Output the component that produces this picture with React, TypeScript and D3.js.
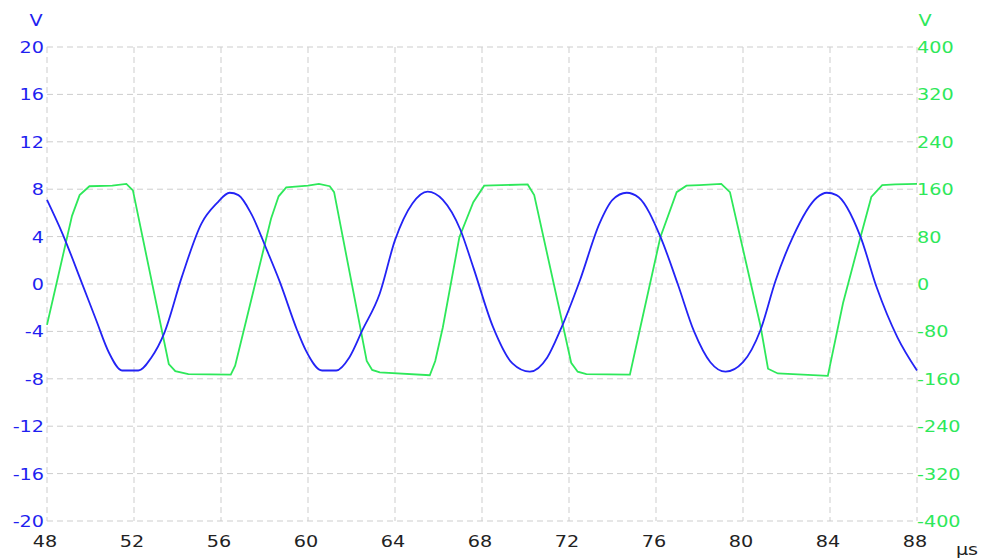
import React, { useEffect } from "react";
import * as d3 from "d3";

// time axis (µs)
const xTicks = [48, 52, 56, 60, 64, 68, 72, 76, 80, 84, 88];
// left axis (V), blue trace
const leftTicks = [20, 16, 12, 8, 4, 0, -4, -8, -12, -16, -20];
// right axis (V), green trace
const rightTicks = [400, 320, 240, 160, 80, 0, -80, -160, -240, -320, -400];

const blueT = [
  48.0, 48.7, 49.6, 50.25, 50.85, 51.45, 52.2, 52.8, 53.4, 54.2, 55.1, 55.8, 56.4, 56.8, 57.4, 58.1,
  58.7, 59.5, 59.9, 60.65, 61.3, 61.9, 62.5, 63.3, 64.0, 64.8, 65.5, 66.2, 67.0, 67.6, 68.5, 69.4,
  70.2, 71.0, 71.6, 72.5, 73.4, 74.0, 74.65, 75.2, 76.2, 77.0, 77.75, 78.5, 79.2, 80.0, 80.8, 81.5,
  82.3, 83.4, 83.85, 84.3, 85.4, 86.15, 87.1, 88.0,
];
const blueV = [
  7.1, 4.3, 0.1, -3.0, -5.8, -7.3, -7.3, -6.2, -4.1, 0.6, 5.1, 6.8, 7.7, 7.5, 5.9, 2.9,
  0.2, -3.9, -5.6, -7.3, -7.3, -6.2, -3.9, -0.8, 3.7, 6.8, 7.8, 7.1, 4.6, 1.4, -3.6, -6.7,
  -7.4, -6.2, -3.9, 0.3, 5.1, 7.1, 7.7, 7.3, 4.0, 0.0, -4.0, -6.6, -7.4, -6.6, -3.9, 0.3,
  4.0, 7.3, 7.7, 7.5, 4.0, -0.3, -4.5, -7.3,
];

const greenT = [
  48.0, 48.4, 49.15, 49.5, 49.95, 51.0, 51.65, 51.95, 53.6, 53.9, 54.5, 56.45, 56.65, 58.3, 58.65, 59.0,
  60.0, 60.5, 61.0, 61.2, 62.7, 62.95, 63.3, 65.6, 65.85, 66.2, 66.96, 67.6, 68.1, 70.1, 70.4, 72.1,
  72.4, 72.8, 74.8, 75.25, 76.2, 76.95, 77.4, 78.0, 79.0, 79.4, 80.8, 81.15, 81.6, 83.9, 84.6, 85.4,
  85.9, 86.4, 87.0, 88.0,
];
const greenV = [
  -69, -5, 115, 150, 165, 166, 169, 158, -135, -147, -152, -153, -138, 110, 148, 163,
  166, 169, 165, 155, -130, -145, -149, -154, -130, -73, 79, 138, 166, 168, 150, -133,
  -148, -152, -153, -78, 79, 155, 166, 167, 169, 155, -70, -143, -151, -155, -32, 79,
  147, 167, 168, 169,
];

const blueData = blueT.map((t, i) => [t, blueV[i]] as [number, number]);
const greenData = greenT.map((t, i) => [t, greenV[i]] as [number, number]);

const W = 984;
const H = 560;
const left = 47;
const right = 917;
const top = 47;
const bottom = 521;

const BLUE = "#2323f5";
const GREEN = "#2ee85a";
const FONT = "'DejaVu Sans', sans-serif";

export default function App() {
  useEffect(() => {
    document.body.style.margin = "0";
  }, []);

  const x = d3.scaleLinear().domain([48, 88]).range([left, right]);
  const yL = d3.scaleLinear().domain([-20, 20]).range([bottom, top]);
  const yR = d3.scaleLinear().domain([-400, 400]).range([bottom, top]);

  const blueLine = d3
    .line<[number, number]>()
    .x((d) => x(d[0]))
    .y((d) => yL(d[1]))
    .curve(d3.curveMonotoneX);
  const greenLine = d3
    .line<[number, number]>()
    .x((d) => x(d[0]))
    .y((d) => yR(d[1]));

  const label = (tx: number, ty: number, txt: string, anchor: string, color: string, key: string) => (
    <text
      key={key}
      transform={`translate(${tx},${ty}) scale(1.2,1)`}
      textAnchor={anchor}
      fill={color}
      fontFamily={FONT}
      fontSize={16}
    >
      {txt}
    </text>
  );

  return (
    <svg width={W} height={H} style={{ display: "block", background: "#fff" }}>
      <g className="grid">
        {xTicks.map((t) => (
          <line
            key={"gx" + t}
            x1={x(t)}
            x2={x(t)}
            y1={top}
            y2={bottom}
            stroke="#cdcdcd"
            strokeDasharray="6 4"
          />
        ))}
        {leftTicks.map((t) => (
          <line
            key={"gy" + t}
            x1={left}
            x2={right}
            y1={yL(t)}
            y2={yL(t)}
            stroke="#cdcdcd"
            strokeDasharray="6 4"
          />
        ))}
      </g>
      <path d={greenLine(greenData) || ""} fill="none" stroke={GREEN} strokeWidth={1.8} />
      <path d={blueLine(blueData) || ""} fill="none" stroke={BLUE} strokeWidth={1.8} />
      <g className="left-axis">
        {leftTicks.map((t) => label(left - 3, yL(t) + 6, String(t), "end", "#1f1ff0", "l" + t))}
        {label(36, 26, "V", "middle", "#1f1ff0", "lv")}
      </g>
      <g className="right-axis">
        {rightTicks.map((t) => label(right, yR(t) + 6, String(t), "start", "#2ee85a", "r" + t))}
        {label(925, 26, "V", "middle", "#2ee85a", "rv")}
      </g>
      <g className="x-axis">
        {xTicks.map((t) => label(x(t) - 2, 547, String(t), "middle", "#222", "x" + t))}
        {label(967, 555, "µs", "middle", "#222", "xu")}
      </g>
    </svg>
  );
}
